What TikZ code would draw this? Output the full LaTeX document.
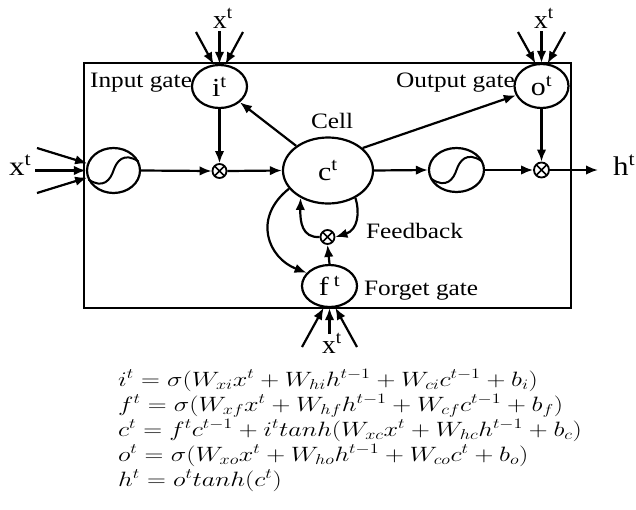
\documentclass[tikz,border=0pt]{standalone}
\usepackage[no-math]{fontspec}
\setmainfont{Liberation Serif}
\usepackage{graphicx}
\usetikzlibrary{shapes.geometric,arrows.meta}
\newcommand{\Lbl}[3][1.15]{\scalebox{#1}[1]{\fontsize{#2}{#2}\selectfont #3}}
\newcommand{\Eq}[1]{\scalebox{1.26}[1.0]{\fontsize{20.74}{25}\selectfont $#1$}}
\begin{document}
\begin{tikzpicture}[x=1pt,y=-1pt,
  line width=2.2pt,
  arr/.style={-{Latex[length=12pt,width=9.5pt]}, line width=2.2pt},
  gate/.style={draw, ellipse, fill=white, inner sep=0pt, line width=2.2pt},
  mult/.style={draw, circle, fill=white, minimum size=14pt, inner sep=0pt, line width=1.8pt,
    path picture={\draw[line width=1.5pt]
      ([shift={(45:7)}]path picture bounding box.center) -- ([shift={(225:7)}]path picture bounding box.center)
      ([shift={(135:7)}]path picture bounding box.center) -- ([shift={(315:7)}]path picture bounding box.center);}},
  lab/.style={inner sep=0pt, anchor=base west},
]
\useasboundingbox (0,0) rectangle (636,509);

% frame
\draw[line width=2.2pt] (84,63) rectangle (571,308);

% gates and cells
\node[gate, minimum width=55pt, minimum height=43pt] (i) at (219.5,86.5) {\Lbl{26}{i\textsuperscript{t}}};
\node[gate, minimum width=54pt, minimum height=44pt] (o) at (541.5,86) {\Lbl{26}{o\textsuperscript{t}}};
\node[gate, minimum width=53pt, minimum height=45pt] (s1) at (113.5,170.5) {};
\node[gate, minimum width=55pt, minimum height=44pt] (s2) at (456.5,170) {};
\node[gate, minimum width=90pt, minimum height=66pt] (c) at (328,170.5) {\Lbl{26}{c\textsuperscript{t}}};
\node[gate, minimum width=55pt, minimum height=42pt] (f) at (329.5,286) {\Lbl{26}{f\,\textsuperscript{t}}};

\node[mult] (m1) at (219.5,171) {};
\node[mult, minimum size=15pt] (m2) at (541.5,170) {};
\node[mult] (m3) at (327.5,237) {};

% sigmoid curves
\foreach \n in {s1,s2}{
  \draw[line width=2pt] ([shift={(-25,9)}]\n.center) .. controls ([shift={(-10,19)}]\n.center) and ([shift={(-3,9)}]\n.center) .. (\n.center)
     .. controls ([shift={(3,-9)}]\n.center) and ([shift={(10,-19)}]\n.center) .. ([shift={(25,-9)}]\n.center);
}

% labels
\node[lab] (tin) at (89,87) {\Lbl{22}{Input gate}};
\node[lab] (tout) at (395,87) {\Lbl{22}{Output gate}};
\node[lab] (tcell) at (310,128) {\Lbl{22}{Cell}};
\node[lab] (tfb) at (365,238) {\Lbl{22}{Feedback}};
\node[lab] (tfg) at (363,295) {\Lbl{22}{Forget gate}};

\node[lab] (xl) at (8,175) {\Lbl{27}{x\textsuperscript{t}}};
\node[lab] (xi) at (212,28) {\Lbl[1.05]{26}{x\textsuperscript{t}}};
\node[lab] (xo) at (533,28) {\Lbl[1.05]{26}{x\textsuperscript{t}}};
\node[lab] (xf) at (321,353) {\Lbl[1.05]{26}{x\textsuperscript{t}}};
\node[lab] (h) at (612,175) {\Lbl{27}{h\textsuperscript{t}}};

% input arrow start points
\coordinate (l1) at (37,148); \coordinate (l2) at (35,170.5); \coordinate (l3) at (37,193);
\coordinate (a1) at (196,32); \coordinate (a2) at (219.5,31); \coordinate (a3) at (243,32);
\coordinate (b1) at (518,32); \coordinate (b2) at (541.5,31); \coordinate (b3) at (565,32);
\coordinate (d1) at (302,347); \coordinate (d2) at (329.5,334); \coordinate (d3) at (357,347);
\coordinate (hend) at (598,170);

\draw[arr] (l1) -- (s1.165);
\draw[arr] (l2) -- (s1.west);
\draw[arr] (l3) -- (s1.195);
\draw[arr] (a1) -- (i.105);
\draw[arr] (a2) -- (i.north);
\draw[arr] (a3) -- (i.75);
\draw[arr] (b1) -- (o.105);
\draw[arr] (b2) -- (o.north);
\draw[arr] (b3) -- (o.75);
\draw[arr] (d1) -- (f.255);
\draw[arr] (d2) -- (f.south);
\draw[arr] (d3) -- (f.285);

% main flow
\draw[arr] (s1.east) -- (m1.west);
\draw[arr] (i.south) -- (m1.north);
\draw[arr] (m1.east) -- (c.west);
\draw[arr] (c.east) -- (s2.west);
\draw[arr] (s2.east) -- (m2.west);
\draw[arr] (o.south) -- (m2.north);
\draw[arr] (m2.east) -- (hend);
\draw[arr] (c) -- (i);
\draw[arr] (c.33) -- (o.200);

% feedback
\draw[arr] (f.north) -- (m3.south);
\draw[arr] (m3.west) .. controls (302,238) and (300,222) .. (c.225);
\draw[arr] (c.315) .. controls (360,212) and (358,230) .. (m3.east);
\draw[arr] (c.205) .. controls (252,218) and (268,258) .. (f.150);

% equations
\node[lab] (e1) at (117,386) {\Eq{i^t = \sigma(W_{xi}x^t + W_{hi}h^{t-1} + W_{ci}c^{t-1} + b_i)}};
\node[lab] (e2) at (117,411) {\Eq{f^t = \sigma(W_{xf}x^t + W_{hf}h^{t-1} + W_{cf}c^{t-1} + b_f)}};
\node[lab] (e3) at (117,436) {\Eq{c^t = f^tc^{t-1} + i^t tanh(W_{xc}x^t + W_{hc}h^{t-1} + b_c)}};
\node[lab] (e4) at (117,461) {\Eq{o^t = \sigma(W_{xo}x^t + W_{ho}h^{t-1} + W_{co}c^t + b_o)}};
\node[lab] (e5) at (117,486) {\Eq{h^t = o^t tanh(c^t)}};
\end{tikzpicture}
\end{document}
